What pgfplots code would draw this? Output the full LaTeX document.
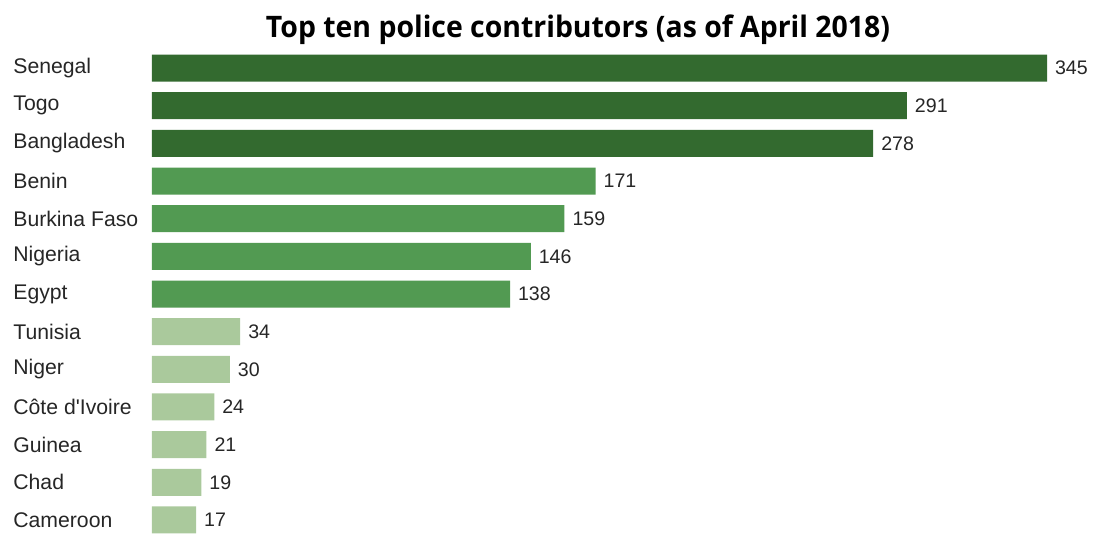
\documentclass[border=0pt]{standalone}
\usepackage{pgfplots}
\pgfplotsset{compat=1.18}
\usepackage{fontspec}
\setmainfont{Liberation Sans}[Ligatures=TeXOff]
\newfontfamily\titlefont[FakeStretch=0.96]{Open Sans}

\definecolor{darkg}{HTML}{336A2F}
\definecolor{midg}{HTML}{529A52}
\definecolor{lightg}{HTML}{AAC99C}

\begin{document}
\begin{tikzpicture}
\begin{axis}[
    at={(0,0)}, anchor=south west,
    scale only axis,
    width=447.5pt, height=241pt,
    xmin=0, xmax=345,
    ymin=-0.4, ymax=12.4,
    y dir=reverse,
    xbar, bar shift=0pt, bar width=13.5pt,
    axis line style={draw=none},
    major tick length=0pt,
    xtick=\empty,
    ytick={0,...,12},
    yticklabels={Senegal,Togo,Bangladesh,Benin,Burkina Faso,Nigeria,Egypt,Tunisia,Niger,C\^ote d'Ivoire,Guinea,Chad,Cameroon},
    yticklabel style={anchor=west, inner sep=0pt, xshift=-69.5pt, font=\fontsize{10.6}{12}\selectfont, text=black!85},
    /pgf/number format/assume math mode=true,
    nodes near coords,
    every node near coord/.append style={font=\fontsize{9.8}{11}\selectfont, text=black!85, xshift=0.5pt},
    clip=false,
]
\addplot[fill=darkg, draw=none] coordinates {(345,0) (291,1) (278,2)};
\addplot[fill=midg, draw=none] coordinates {(171,3) (159,4) (146,5) (138,6)};
\addplot[fill=lightg, draw=none] coordinates {(34,7) (30,8) (24,9) (21,10) (19,11) (17,12)};
\end{axis}
\node at (213pt,252.5pt) {\titlefont\bfseries\fontsize{14.8}{16}\selectfont Top ten police contributors (as of April 2018)};
\pgfresetboundingbox
\path[use as bounding box] (-76pt,0.5pt) rectangle (470.5pt,267.5pt);
\end{tikzpicture}
\end{document}
